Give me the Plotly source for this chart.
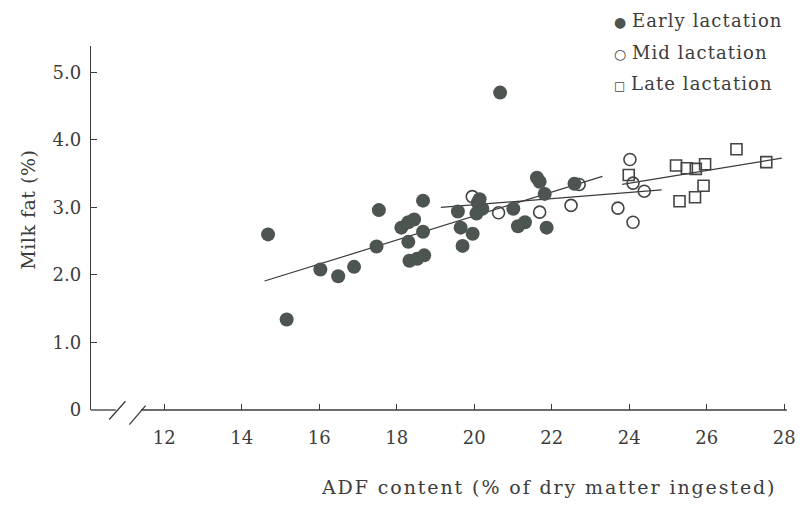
import plotly.graph_objects as go

# ---- data ----
early_x = [14.68, 15.16, 16.03, 16.49, 16.90, 17.48, 17.54, 18.12, 18.30, 18.45,
           18.68, 18.68, 18.30, 18.33, 18.53, 18.71, 19.58, 19.65, 19.70, 19.96,
           20.09, 20.21, 20.06, 20.14, 20.67, 21.01, 21.13, 21.31, 21.62, 21.69,
           21.82, 21.87, 22.59]
early_y = [2.60, 1.34, 2.08, 1.98, 2.12, 2.42, 2.96, 2.70, 2.78, 2.82,
           3.10, 2.64, 2.49, 2.21, 2.24, 2.29, 2.94, 2.70, 2.43, 2.61,
           3.07, 2.98, 2.91, 3.12, 4.70, 2.98, 2.72, 2.78, 3.44, 3.38,
           3.20, 2.70, 3.35]

mid_x = [19.95, 20.63, 21.69, 22.50, 22.71, 23.71, 24.02, 24.10, 24.10, 24.39]
mid_y = [3.16, 2.92, 2.93, 3.03, 3.34, 2.99, 3.71, 3.36, 2.78, 3.24]

late_x = [23.99, 25.21, 25.49, 25.72, 25.96, 26.77, 27.54, 25.92, 25.70, 25.30]
late_y = [3.48, 3.62, 3.58, 3.57, 3.64, 3.86, 3.67, 3.32, 3.15, 3.09]

# regression lines (end points)
early_fit_x = [14.59, 23.31]
early_fit_y = [1.91, 3.46]
mid_fit_x = [19.14, 24.84]
mid_fit_y = [3.00, 3.26]
late_fit_x = [23.82, 27.94]
late_fit_y = [3.34, 3.73]

x_ticks = [12, 14, 16, 18, 20, 22, 24, 26, 28]
y_ticks = [0, 1, 2, 3, 4, 5]
y_tick_text = ["0", "1.0", "2.0", "3.0", "4.0", "5.0"]

series_names = ["Early lactation", "Mid lactation", "Late lactation"]

FONT = "DejaVu Serif"
TXT = "#3c3c3c"
LINE = "#3a3a3a"
DOT = "#4d5550"

# plot area geometry (page is offset by the 8px default body margin)
PL, PT, PW, PH = 91, 46, 705, 364   # page coords of plot area


def px_x(p):
    return (p - PL) / PW


def px_y(p):
    return (PT + PH - p) / PH


fig = go.Figure()

for fx, fy in [(early_fit_x, early_fit_y), (mid_fit_x, mid_fit_y), (late_fit_x, late_fit_y)]:
    fig.add_trace(go.Scatter(x=fx, y=fy, mode="lines",
                             line=dict(color=LINE, width=1.2), showlegend=False,
                             hoverinfo="skip"))

fig.add_trace(go.Scatter(x=mid_x, y=mid_y, mode="markers", name=series_names[1],
                         marker=dict(symbol="circle-open", size=12, color="#444",
                                     line=dict(width=1.6, color="#444")),
                         showlegend=False, cliponaxis=False))
fig.add_trace(go.Scatter(x=late_x, y=late_y, mode="markers", name=series_names[2],
                         marker=dict(symbol="square-open", size=11, color="#444",
                                     line=dict(width=1.6, color="#444")),
                         showlegend=False, cliponaxis=False))
fig.add_trace(go.Scatter(x=early_x, y=early_y, mode="markers", name=series_names[0],
                         marker=dict(symbol="circle", size=14, color=DOT,
                                     line=dict(width=0)),
                         showlegend=False, cliponaxis=False))

# axis line with break marks (decoration)
shapes = [
    dict(type="line", xref="x", yref="paper", x0=10.05, x1=10.75, y0=0, y1=0,
         line=dict(color=LINE, width=1.3)),
    dict(type="line", xref="x", yref="paper", x0=11.40, x1=28.07, y0=0, y1=0,
         line=dict(color=LINE, width=1.3)),
    dict(type="line", xref="x", yref="paper", x0=10.58, x1=11.00, y0=-0.026, y1=0.024,
         line=dict(color=LINE, width=1.3)),
    dict(type="line", xref="x", yref="paper", x0=11.10, x1=11.52, y0=-0.040, y1=0.012,
         line=dict(color=LINE, width=1.3)),
]

legend_symbols = ['<span style="font-size:14px;color:%s">●</span>' % DOT,
                  '<span style="font-size:14px;color:#444">○</span>',
                  '<span style="font-size:12px;color:#444">□</span>']
annotations = []
for i, (sym, name) in enumerate(zip(legend_symbols, series_names)):
    annotations.append(dict(xref="paper", yref="paper", x=px_x(618), xanchor="left",
                            y=px_y(20 + 32 * i), yanchor="middle",
                            text=sym + ' <span style="letter-spacing:1.1px">' + name + '</span>',
                            showarrow=False,
                            font=dict(family=FONT, size=18, color=TXT)))

annotations.append(dict(xref="paper", yref="paper", x=px_x(554), y=px_y(487),
                        xanchor="center", yanchor="middle",
                        text='<span style="letter-spacing:1.9px">ADF content (% of dry matter ingested)</span>',
                        showarrow=False,
                        font=dict(family=FONT, size=19, color=TXT)))
annotations.append(dict(xref="paper", yref="paper", x=px_x(27), y=px_y(210),
                        xanchor="center", yanchor="middle", textangle=-90,
                        text='<span style="letter-spacing:0.5px">Milk fat (%)</span>',
                        showarrow=False,
                        font=dict(family=FONT, size=19, color=TXT)))

FW, FH = 795, 500
fig.update_layout(
    width=FW, height=FH,
    margin=dict(l=PL - 8, r=FW - (PL - 8) - PW, t=PT - 8, b=FH - (PT - 8) - PH),
    paper_bgcolor="white", plot_bgcolor="white",
    font=dict(family=FONT, size=18, color=TXT),
    showlegend=False,
    shapes=shapes,
    annotations=annotations,
    xaxis=dict(range=[10.11, 28.1], tickvals=x_ticks, ticks="inside", ticklen=6,
               tickwidth=1.2, tickcolor=LINE, showline=False, showgrid=False,
               zeroline=False, ticklabelstandoff=15, ticklabeloverflow="allow",
               tickfont=dict(family=FONT, size=18, color=TXT)),
    yaxis=dict(range=[0, 5.39], tickvals=y_ticks, ticktext=y_tick_text,
               ticks="inside", ticklen=6, tickwidth=1.2, tickcolor=LINE,
               showline=True, linecolor=LINE, linewidth=1.3, showgrid=False,
               zeroline=False, ticklabelstandoff=5,
               tickfont=dict(family=FONT, size=18, color=TXT)),
)

fig.write_html("out.html")
